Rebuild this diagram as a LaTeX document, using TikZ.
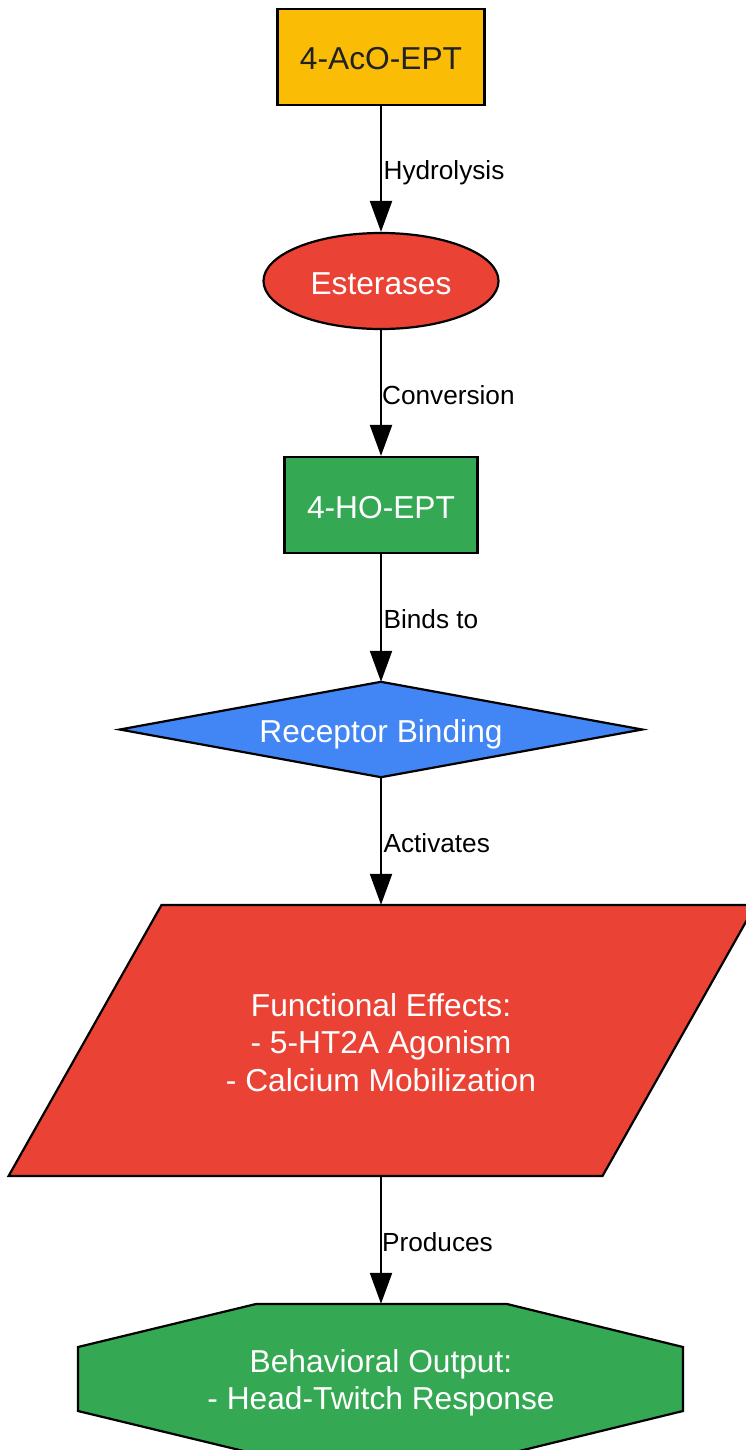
\documentclass[tikz,border=0pt]{standalone}
\usepackage{fontspec}
\setmainfont{Liberation Sans}
\usetikzlibrary{shapes.geometric,arrows.meta}
\pgfdeclarelayer{background}
\pgfsetlayers{background,main}
\definecolor{gyellow}{HTML}{FBBC05}
\definecolor{gred}{HTML}{EA4335}
\definecolor{ggreen}{HTML}{34A853}
\definecolor{gblue}{HTML}{4285F4}
\definecolor{darktext}{HTML}{202124}
\tikzset{
  nodetext/.style={font=\fontsize{31.7}{37.5}\selectfont, align=center, inner sep=0pt},
  oneline/.style={text height=26pt, text depth=0pt},
  shapeline/.style={draw=black, line width=2.2pt},
  lbl/.style={font=\fontsize{26.2}{30}\selectfont, anchor=west, inner sep=0pt, xshift=1.5pt, text height=27pt, text depth=5pt, fill=none},
  conn/.style={line width=2.2pt, -{Triangle[length=31pt,width=22pt]}, shorten >=0pt}
}
\begin{document}
\begin{tikzpicture}[x=1pt,y=-1pt]
\useasboundingbox (0,0) rectangle (745,1450);
\clip (0,0) rectangle (745,1450);

\node[nodetext, oneline, shapeline, rectangle, fill=gyellow, text=darktext, minimum width=207pt, minimum height=96pt] (aco) at (381,57) {4-AcO-EPT};
\node[nodetext, oneline, shapeline, ellipse, fill=gred, text=white, minimum width=235pt, minimum height=96pt] (est) at (381,281) {Esterases};
\node[nodetext, oneline, shapeline, rectangle, fill=ggreen, text=white, minimum width=193pt, minimum height=96pt] (ho) at (381,505) {4-HO-EPT};
\node[nodetext, oneline, text=white, minimum width=522pt, minimum height=95pt] (rb) at (381,729.5) {Receptor Binding};
\node[nodetext, text=white, minimum width=440pt, minimum height=271pt] (fe) at (381,1040.5) {\rule{0pt}{27pt}Functional Effects:\\- 5-HT2A Agonism\\- Calcium Mobilization};
\node[nodetext, text=white, minimum width=400pt, minimum height=150pt] (bo) at (381,1379) {\rule{0pt}{31pt}Behavioral Output:\\- Head-Twitch Response};

\begin{pgfonlayer}{background}
\fill[white] (0,0) rectangle (745,1450);
\filldraw[shapeline, fill=gblue] (rb.west) -- (rb.north) -- (rb.east) -- (rb.south) -- cycle;
\filldraw[shapeline, fill=gred] (161.5,905) -- (755.4,905) -- (602.5,1176) -- (8.6,1176) -- cycle;
\filldraw[shapeline, fill=ggreen] (256,1304) -- (507,1304) -- (683,1347) -- (683,1411) -- (507,1454) -- (256,1454) -- (78,1411) -- (78,1347) -- cycle;
\end{pgfonlayer}

\draw[conn] (aco.south) -- node[lbl] {Hydrolysis} (est.north);
\draw[conn] (est.south) -- node[lbl, xshift=-1.5pt] {Conversion} (ho.north);
\draw[conn] (ho.south) -- node[lbl] {Binds to} (rb.north);
\draw[conn] (rb.south) -- node[lbl] {Activates} (fe.north);
\draw[conn] (fe.south) -- node[lbl, xshift=-1.5pt] {Produces} (bo.north);
\end{tikzpicture}
\end{document}
